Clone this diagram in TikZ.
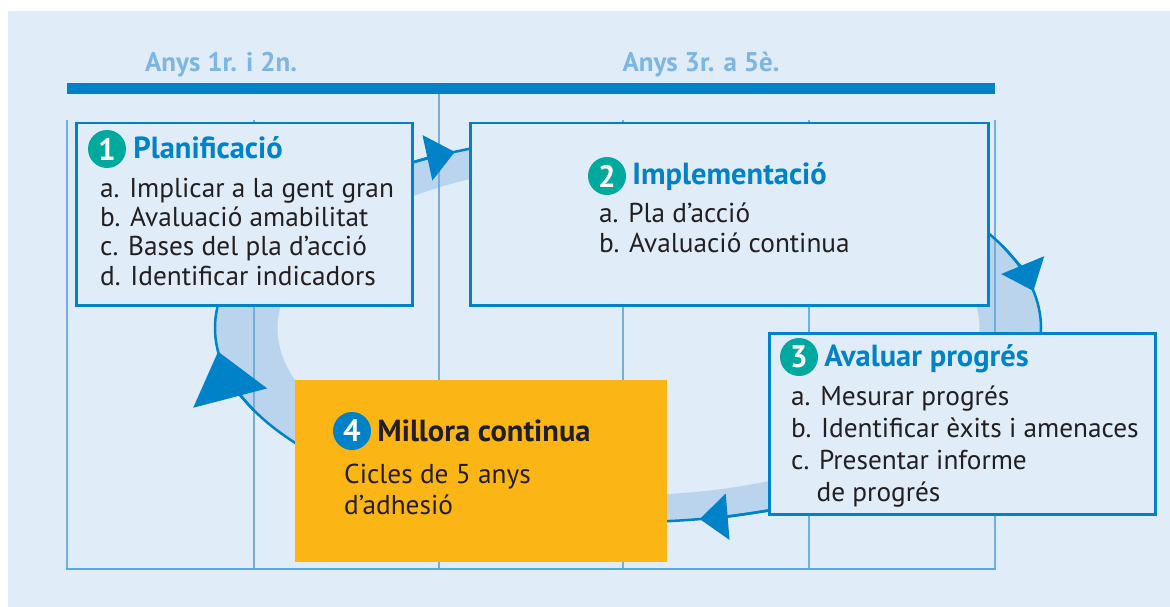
\documentclass[tikz,border=0pt]{standalone}
\usepackage{fontspec}
\setmainfont{PT Sans}
\usetikzlibrary{arrows.meta,positioning}
\definecolor{pagebg}{HTML}{E0ECF8}
\definecolor{bandblue}{HTML}{B9D4EC}
\definecolor{mainblue}{HTML}{0082C8}
\definecolor{gridblue}{HTML}{6FB0E0}
\definecolor{titleblue}{HTML}{7DB6E3}
\definecolor{stepteal}{HTML}{00A99D}
\definecolor{stepyellow}{HTML}{FBB616}
\definecolor{inkdark}{HTML}{231F20}
\tikzset{
  phasebox/.style={draw=mainblue, line width=2.5pt, fill=pagebg, anchor=north west, inner sep=0pt},
  numdot/.style={circle, fill=stepteal, text=white, inner sep=0pt, minimum size=38pt, font=\bfseries\fontsize{31}{31}\selectfont},
  heading/.style={text=mainblue, inner sep=0pt, font=\bfseries\fontsize{30.5}{34}\selectfont},
  items/.style={text=inkdark, inner sep=0pt, align=left, anchor=base west, font=\fontsize{27.3}{#1}\selectfont},
  yeartitle/.style={text=titleblue, inner sep=0pt, anchor=base, font=\bfseries\fontsize{27}{32}\selectfont},
  gridline/.style={gridblue, line width=1.3pt},
  ring/.style={mainblue, line width=2.5pt},
  smalltip/.style={ring, -{Triangle[length=28pt,width=46pt]}},
  bigtip/.style={ring, -{Triangle[length=48pt,width=76pt]}},
}
\begin{document}
\begin{tikzpicture}[x=1pt,y=-1pt]
    \useasboundingbox (0,0) rectangle (1170,607);
    \fill[pagebg] (8,11) rectangle (1170,607);
    \node[yeartitle] (t1) at (221,72) {Anys 1r. i 2n.};
    \node[yeartitle] (t2) at (701,72) {Anys 3r. a 5è.};
    \fill[mainblue] (67,83) rectangle (995,94);

    \fill[bandblue, even odd rule] (628,328) ellipse [x radius=413, y radius=194]
        (628.5,328) ellipse [x radius=351, y radius=167];

    \draw[gridline]
    (439,94) -- (439,569)
    (67,120) -- (67,569)
    (254,120) -- (254,569)
    (623,120) -- (623,569)
    (809,120) -- (809,569)
    (995,120) -- (995,569);
    \draw[gridblue!80!mainblue, line width=2pt] (66.35,569) -- (995.65,569);

    \draw[ring] (628,328) ellipse [x radius=413, y radius=194];
    \draw[smalltip] (628,328) ++(-126:413 and 194) arc[start angle=-126, end angle=-114.8, x radius=413, y radius=194];
    \draw[smalltip] (628,328) ++(-25:413 and 194) arc[start angle=-25, end angle=-11, x radius=413, y radius=194];
    \draw[smalltip] (628,328) ++(70:413 and 194) arc[start angle=70, end angle=80, x radius=413, y radius=194];
    \draw[bigtip] (628,328) ++(155:413 and 194) arc[start angle=155, end angle=173, x radius=413, y radius=194];

    \node[phasebox, minimum width=336pt, minimum height=182pt] (plan) at (75,122) {};
    \node[numdot] (n1) at (107,149) {1};
    \node[heading, right=7pt of n1, anchor=base west, yshift=-9pt] (h1) {Planificació};
    \node[items=29.3pt] (l1) at (100,285) {a. Implicar a la gent gran\\b. Avaluació amabilitat\\c. Bases del pla d’acció\\d. Identificar indicadors};

    \node[phasebox, minimum width=518pt, minimum height=182pt] (impl) at (469,122) {};
    \node[numdot] (n2) at (607,176) {2};
    \node[heading, right=6pt of n2, anchor=base west, yshift=-9pt] (h2) {Implementació};
    \node[items=30pt] (l2) at (599,252) {a. Pla d’acció\\b. Avaluació continua};

    \node[phasebox, minimum width=386pt, minimum height=181pt] (aval) at (768,332) {};
    \node[numdot] (n3) at (799,357) {3};
    \node[heading, right=6pt of n3, anchor=base west, yshift=-9pt] (h3) {Avaluar progrés};
    \node[items=31.7pt] (l3) at (791,501) {a. Mesurar progrés\\b. Identificar èxits i amenaces\\c. Presentar informe\\\hphantom{c.\ }de progrés};

    \node[phasebox, draw=none, fill=stepyellow, minimum width=372pt, minimum height=182pt] (mill) at (294,379) {};
    \node[numdot, fill=mainblue] (n4) at (352,431) {4};
    \node[heading, text=inkdark, right=6pt of n4, anchor=base west, yshift=-10pt] (h4) {Millora continua};
    \node[items=31pt] (l4) at (344,514) {Cicles de 5 anys\\d’adhesió};
\end{tikzpicture}
\end{document}
